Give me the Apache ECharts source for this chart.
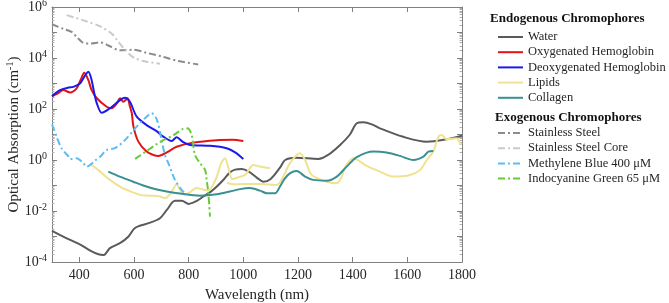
<!DOCTYPE html>
<html>
<head>
<meta charset="utf-8">
<script src="https://cdn.jsdelivr.net/npm/echarts@6/dist/echarts.min.js"></script>
<style>
  html, body { margin: 0; padding: 0; background: #fff; }
  #chart { width: 669px; height: 303px; }
</style>
</head>
<body>
<div id="chart"></div>
<script>
// wavelength (nm), absorption (cm^-1)
var water = [[300,1.66e-3],[350,8.9e-4],[400,5.0e-4],[440,2.8e-4],[470,2.0e-4],[490,1.9e-4],[500,2.4e-4],[512,3.5e-4],[550,5.6e-4],[580,1.0e-3],[600,2.0e-3],[615,2.5e-3],[659,3.5e-3],[695,5.2e-3],[720,1.1e-2],[750,2.5e-2],[775,2.5e-2],[800,1.9e-2],[830,2.5e-2],[854,3.7e-2],[880,5.6e-2],[903,9.1e-2],[930,0.18],[950,0.32],[970,0.42],[994,0.44],[1020,0.35],[1050,0.20],[1073,0.14],[1100,0.18],[1134,0.50],[1153,1.0],[1195,1.23],[1274,1.1],[1310,1.58],[1354,3.9],[1390,10],[1415,27.5],[1439,30],[1470,25],[1500,17.4],[1585,8.1],[1671,5.2],[1744,6.5],[1800,8.9]];
var oxyHb = [[300,316],[320,398],[341,550],[366,447],[390,646],[405,1410],[418,2630],[433,1350],[445,550],[464,263],[500,123],[518,107],[537,166],[549,263],[561,191],[576,263],[585,126],[592,68],[598,20.4],[616,5.25],[646,2.14],[671,1.58],[690,1.45],[720,2.0],[756,3.3],[817,4.8],[903,6.0],[960,6.2],[1000,5.6]];
var deoxyHb = [[300,316],[329,550],[360,692],[378,741],[402,1000],[420,2000],[433,2880],[445,1350],[455,398],[464,166],[482,71],[512,107],[549,224],[567,275],[585,191],[610,50],[646,23.4],[680,14.1],[707,8.3],[738,5.6],[756,7.8],[780,5.0],[805,3.9],[878,3.6],[939,2.9],[970,2.0],[1000,1.1]];
var lipidsA = [[439,0.71],[470,0.40],[512,0.166],[550,0.089],[573,0.068],[622,0.043],[660,0.040],[695,0.037],[713,0.032],[735,0.050],[756,0.112],[770,0.063],[785,0.045],[800,0.050],[829,0.079],[850,0.071],[872,0.063],[890,0.112],[903,0.224],[920,0.79],[933,1.17],[945,0.50],[960,0.178],[975,0.20],[1006,0.26],[1037,0.63],[1060,0.56],[1098,0.48]];
var lipidsB = [[940,0.126],[970,0.112],[1061,0.115],[1122,0.105],[1146,0.224],[1170,0.74],[1207,1.82],[1226,1.0],[1250,0.26],[1305,0.141],[1342,0.123],[1360,0.224],[1372,0.52],[1402,1.17],[1451,0.59],[1500,0.35],[1549,0.224],[1610,0.26],[1647,0.41],[1671,1.0],[1695,2.14],[1713,8.1],[1726,9.5],[1744,6.5],[1781,7.1],[1793,4.6],[1800,4.2]];
var collagen = [[506,0.35],[537,0.25],[597,0.141],[634,0.10],[680,0.071],[720,0.058],[760,0.050],[842,0.040],[903,0.045],[951,0.058],[988,0.072],[1024,0.079],[1061,0.063],[1086,0.050],[1116,0.050],[1134,0.091],[1150,0.178],[1170,0.30],[1195,0.37],[1226,0.224],[1256,0.166],[1305,0.155],[1342,0.224],[1378,0.55],[1415,1.29],[1476,2.14],[1524,1.95],[1573,1.45],[1622,1.0],[1659,1.35],[1677,2.14],[1695,2.24]];
var steel = [[300,2.1e5],[341,1.4e5],[372,1.05e5],[390,6.8e4],[415,3.9e4],[440,3.7e4],[476,4.1e4],[512,2.9e4],[549,2.0e4],[598,2.1e4],[646,1.6e4],[707,1.1e4],[762,7.6e3],[835,5.6e3]];
var steelCore = [[354,4.8e5],[415,3.0e5],[476,1.74e5],[518,9.1e4],[543,4.3e4],[567,2.1e4],[598,1.05e4],[634,7.6e3],[695,6.0e3]];
var methyleneBlue = [[300,25],[317,8.1],[335,2.9],[360,1.38],[366,1.1],[390,1.17],[415,0.74],[427,0.55],[445,0.71],[460,1.0],[476,1.35],[500,2.45],[530,2.9],[567,6.0],[610,20.4],[646,50],[665,68],[683,40],[701,6.0],[713,1.58],[726,0.74],[750,0.166],[774,0.068],[793,0.043]];
var icg = [[604,1.1],[646,2.24],[680,4.0],[707,6.0],[740,8.9],[762,12.6],[780,16.6],[795,17.4],[811,9.5],[823,1.58],[842,0.74],[860,0.41],[866,0.158],[872,0.050],[878,0.006]];

var endoNames = ['Water', 'Oxygenated Hemoglobin', 'Deoxygenated Hemoglobin', 'Lipids', 'Collagen'];
var exoNames = ['Stainless Steel', 'Stainless Steel Core', 'Methylene Blue 400 \u03bcM', 'Indocyanine Green 65 \u03bcM'];

var font = 'Liberation Serif';
var axisColor = '#808080';
var textColor = '#262626';
var dashDot = [7, 3, 2, 3];

function line(name, data, color, dashed) {
    return {
        name: name,
        type: 'line',
        data: data,
        symbol: 'none',
        smooth: 0.3,
        lineStyle: { color: color, width: 2, type: dashed ? dashDot : 'solid' },
        itemStyle: { color: color },
        z: dashed ? 3 : 2
    };
}

function legendBlock(names, top) {
    return {
        data: names,
        orient: 'vertical',
        left: 497,
        top: top,
        padding: 0,
        itemWidth: 25,
        itemHeight: 14,
        itemGap: 1.2,
        itemStyle: { opacity: 0 },
        lineStyle: { width: 2 },
        textStyle: { fontSize: 12.5, fontFamily: font, color: textColor, lineHeight: 14 }
    };
}

var chart = echarts.init(document.getElementById('chart'));

var option = {
    animation: false,
    textStyle: { fontFamily: font },
    grid: { left: 52, right: 207, top: 7, bottom: 41, show: false, outerBoundsMode: 'none', containLabel: false },
    xAxis: [
        {
            type: 'value',
            min: 300,
            max: 1800,
            splitNumber: 8,
            name: 'Wavelength (nm)',
            nameLocation: 'middle',
            nameGap: 26,
            nameMoveOverlap: false,
            nameTextStyle: { fontSize: 15, color: textColor, fontFamily: font },
            axisLine: { lineStyle: { color: axisColor } },
            axisTick: { inside: true, length: 5, lineStyle: { color: axisColor } },
            splitLine: { show: false },
            axisLabel: {
                fontSize: 14, color: textColor, fontFamily: font, margin: 6,
                formatter: function (v) { return v % 200 === 0 ? v : ''; }
            }
        },
        {
            type: 'value',
            position: 'top',
            min: 300,
            max: 1800,
            splitNumber: 8,
            axisLine: { show: true, lineStyle: { color: axisColor } },
            axisTick: { inside: true, length: 5, lineStyle: { color: axisColor } },
            axisLabel: { show: false },
            splitLine: { show: false }
        }
    ],
    yAxis: [
        {
            type: 'log',
            logBase: 10,
            min: 1e-4,
            max: 1e6,
            splitNumber: 10,
            name: '{n|Optical Absorption (cm}{s|-1}{n|)}',
            nameLocation: 'middle',
            nameGap: 29,
            nameMoveOverlap: false,
            nameRotate: 90,
            nameTextStyle: {
                color: textColor,
                rich: {
                    n: { fontSize: 15, fontFamily: font, color: textColor, lineHeight: 18 },
                    s: { fontSize: 10, fontFamily: font, color: textColor, lineHeight: 10, verticalAlign: 'top' }
                }
            },
            axisLine: { show: true, lineStyle: { color: axisColor } },
            axisTick: { inside: true, length: 5, lineStyle: { color: axisColor } },
            minorTick: { show: true, splitNumber: 9, length: 2.5, lineStyle: { color: '#b0b0b0' } },
            splitLine: { show: false },
            axisLabel: {
                margin: 5,
                formatter: function (v) {
                    var e = Math.round(Math.log(v) / Math.LN10);
                    if (e % 2 !== 0) return '';
                    return '{b|10}{s|' + e + '}';
                },
                rich: {
                    b: { fontSize: 14, fontFamily: font, color: textColor, lineHeight: 18 },
                    s: { fontSize: 10, fontFamily: font, color: textColor, lineHeight: 10, verticalAlign: 'top' }
                }
            }
        },
        {
            type: 'log',
            logBase: 10,
            min: 1e-4,
            max: 1e6,
            splitNumber: 10,
            position: 'right',
            axisLine: { show: true, lineStyle: { color: axisColor } },
            axisTick: { inside: true, length: 5, lineStyle: { color: axisColor } },
            minorTick: { show: true, splitNumber: 9, length: 2.5, lineStyle: { color: '#b0b0b0' } },
            axisLabel: { show: false },
            splitLine: { show: false }
        }
    ],
    legend: [legendBlock(endoNames, 30), legendBlock(exoNames, 126)],
    graphic: [
        {
            type: 'text', left: 490, top: 12,
            style: { text: 'Endogenous Chromophores', font: 'bold 13px "Liberation Serif"', fill: '#111' }
        },
        {
            type: 'text', left: 495, top: 111,
            style: { text: 'Exogenous Chromophores', font: 'bold 13px "Liberation Serif"', fill: '#111' }
        }
    ],
    series: [
        line('Water', water, '#5a5a5a', false),
        line('Oxygenated Hemoglobin', oxyHb, '#e01414', false),
        line('Deoxygenated Hemoglobin', deoxyHb, '#1a1aee', false),
        line('Lipids', lipidsA, '#efe291', false),
        line('Lipids', lipidsB, '#efe291', false),
        line('Collagen', collagen, '#3a9090', false),
        line('Stainless Steel', steel, '#8c8c8c', true),
        line('Stainless Steel Core', steelCore, '#cacaca', true),
        line('Methylene Blue 400 \u03bcM', methyleneBlue, '#5cbcf5', true),
        line('Indocyanine Green 65 \u03bcM', icg, '#66cc33', true)
    ]
};

chart.setOption(option);
</script>
</body>
</html>
